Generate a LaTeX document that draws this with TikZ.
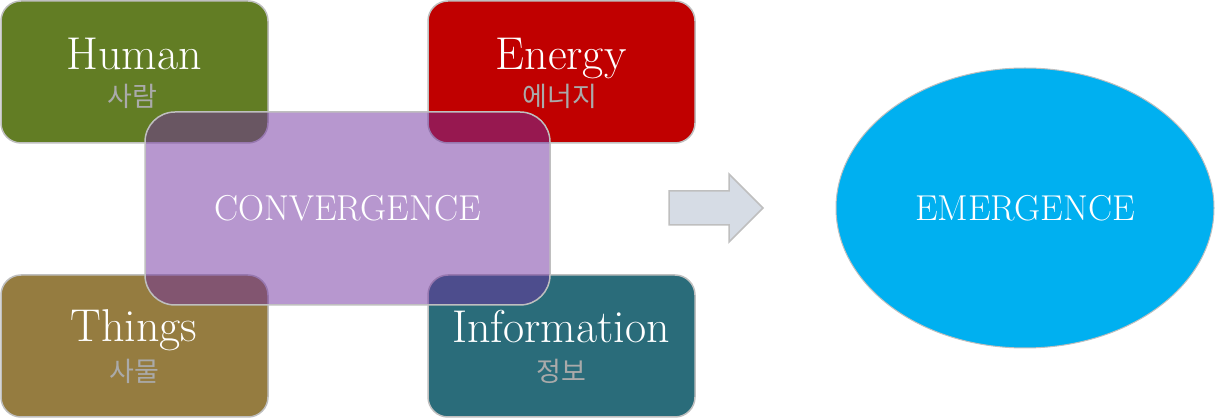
\documentclass[tikz,border=0pt]{standalone}
\usepackage{fontspec}
\usetikzlibrary{shapes.geometric}
\newfontfamily\krfont{Noto Sans CJK KR}
\definecolor{humangreen}{RGB}{98,125,36}
\definecolor{energyred}{RGB}{192,0,0}
\definecolor{thingsgold}{RGB}{149,124,64}
\definecolor{infoteal}{RGB}{42,108,122}
\definecolor{convpurple}{RGB}{112,48,160}
\definecolor{edgegray}{RGB}{191,191,191}
\definecolor{krgray}{RGB}{170,170,170}
\definecolor{emblue}{RGB}{0,176,240}
\definecolor{arrowfill}{RGB}{214,220,229}
\tikzset{
  cornerbox/.style={draw=edgegray, line width=1.5pt, rounded corners=20pt, minimum width=267pt, minimum height=142pt, inner sep=0pt},
  convbox/.style={draw=edgegray, line width=1.5pt, rounded corners=30pt, fill=convpurple, fill opacity=0.5, minimum width=405pt, minimum height=193pt, inner sep=0pt},
  entext/.style={text=white, font=\fontsize{46}{46}\selectfont, anchor=base, inner sep=0pt},
  krtext/.style={text=krgray, font=\krfont\fontsize{27}{27}\selectfont, anchor=base, inner sep=0pt},
  bigtext/.style={text=white, font=\fontsize{36}{36}\selectfont, inner sep=0pt},
}
\begin{document}
\begin{tikzpicture}[x=1pt, y=-1pt]
\useasboundingbox (0,0) rectangle (1216,419);
% corner boxes
\node[cornerbox, fill=humangreen] (human) at (134.5,72) {};
\node[cornerbox, fill=energyred] (energy) at (561.5,72) {};
\node[cornerbox, fill=thingsgold] (things) at (134.5,346) {};
\node[cornerbox, fill=infoteal] (info) at (561.5,346) {};
% labels
\node[entext] (humanen) at (134,70) {Human};
\node[krtext] (humankr) at (132,107) {사람};
\node[entext] (energyen) at (561,70) {Energy};
\node[krtext] (energykr) at (560,107) {에너지};
\node[entext] (thingsen) at (134,342) {Things};
\node[krtext] (thingskr) at (134,382) {사물};
\node[entext] (infoen) at (561,343) {Information};
\node[krtext] (infokr) at (561,382) {정보};
% convergence
\node[convbox] (conv) at (347.5,208.5) {};
\node[bigtext] (convtext) at (347.5,208.5) {CONVERGENCE};
% arrow
\draw[draw=edgegray, line width=1.5pt, fill=arrowfill, line join=miter]
  (669,191) -- (729,191) -- (729,174) -- (763,208) -- (729,242) -- (729,225) -- (669,225) -- cycle;
% emergence
\node[draw=edgegray, line width=1pt, fill=emblue, ellipse, minimum width=378pt, minimum height=280pt, inner sep=0pt] (emerge) at (1025,208) {};
\node[bigtext] (emergetext) at (1025,208) {EMERGENCE};
\end{tikzpicture}
\end{document}
